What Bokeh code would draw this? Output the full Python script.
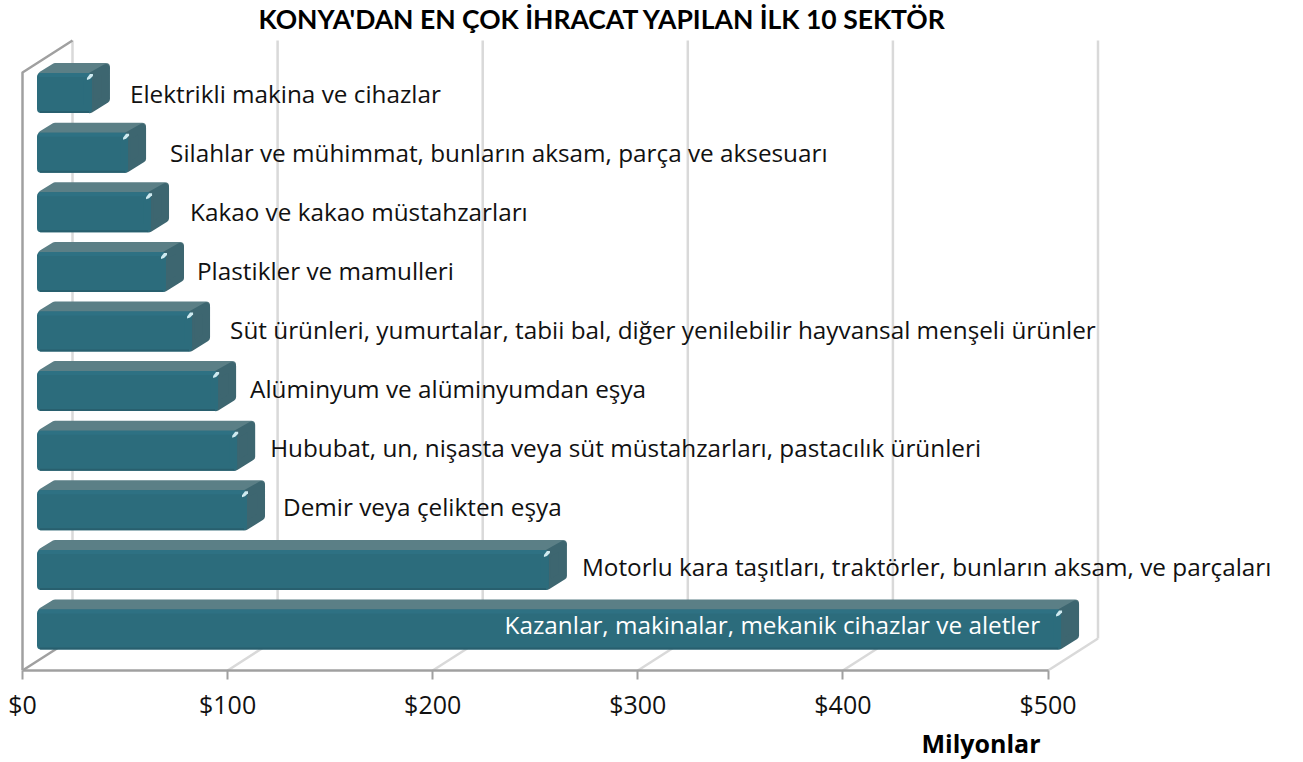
from bokeh.plotting import figure
from bokeh.embed import file_html
from bokeh.resources import INLINE
from bokeh.models import Label, Title, FixedTicker, Range1d
from bokeh.core.properties import value

title_text = "KONYA'DAN EN ÇOK İHRACAT YAPILAN İLK 10 SEKTÖR"
axis_title = "Milyonlar"
sectors = [
    "Elektrikli makina ve cihazlar",
    "Silahlar ve mühimmat, bunların aksam, parça ve aksesuarı",
    "Kakao ve kakao müstahzarları",
    "Plastikler ve mamulleri",
    "Süt ürünleri, yumurtalar, tabii bal, diğer yenilebilir hayvansal menşeli ürünler",
    "Alüminyum ve alüminyumdan eşya",
    "Hububat, un, nişasta veya süt müstahzarları, pastacılık ürünleri",
    "Demir veya çelikten eşya",
    "Motorlu kara taşıtları, traktörler,  bunların aksam, ve parçaları",
    "Kazanlar, makinalar, mekanik cihazlar ve aletler",
]
values = [26.8, 44.4, 55.6, 62.9, 75.6, 88.3, 97.6, 102.4, 249.6, 499.3]
ticks = [0, 100, 200, 300, 400, 500]
tick_labels = ["$0", "$100", "$200", "$300", "$400", "$500"]
label_gap_px = [21, 25, 22, 14, 21, 15, 16, 19, 16]

PXX = 2.051      # pixels per million
PXY = 59.6       # pixels per category
W, H = 1300, 760
TITLE_H = 34
AXIS_BORDER = 90
X0 = 22          # canvas px of $0
FONT = "Open Sans"
n = len(values)
frame_h = H - TITLE_H - AXIS_BORDER
y_start = -41 / PXY
y_end = y_start + frame_h / PXY
x_start = -X0 / PXX
x_end = x_start + W / PXX

dx = lambda px: px / PXX
dy = lambda px: px / PXY

p = figure(width=W, height=H, output_backend="svg", toolbar_location=None,
           x_range=Range1d(x_start, x_end), y_range=Range1d(y_start, y_end),
           min_border_left=0, min_border_right=0, min_border_top=TITLE_H, min_border_bottom=AXIS_BORDER,
           outline_line_color=None, background_fill_color="white", border_fill_color="white")
p.title = Title(text=title_text, align="left", offset=258, text_font="Lato", text_font_size="26.5px",
                text_font_style="bold", text_color="black", standoff=-1)
p.grid.visible = False
p.yaxis.visible = False

ax = p.xaxis[0]
ax.ticker = FixedTicker(ticks=ticks)
ax.major_label_overrides = {t: l for t, l in zip(ticks, tick_labels)}
ax.bounds = (ticks[0], ticks[-1])
ax.axis_line_color = "#a0a0a0"
ax.axis_line_width = 2.5
ax.major_tick_line_color = "#a0a0a0"
ax.major_tick_line_width = 2
ax.major_tick_out = 9
ax.major_tick_in = 0
ax.minor_tick_line_color = None
ax.major_label_standoff = 7
ax.major_label_text_font = FONT
ax.major_label_text_font_size = "25px"
ax.major_label_text_color = "#111111"

# 3-D box walls
WALL_DX, WALL_DY = 50, 32
top_back = y_start + dy(630)
top_front = top_back - dy(WALL_DY)
floor_back = y_start + dy(WALL_DY)
for t in ticks:
    bx = t + dx(WALL_DX)
    if t != 0:
        p.line([t, bx], [y_start, floor_back], line_color="#d9d9d9", line_width=2.5)
    p.line([bx, bx], [floor_back, top_back], line_color="#d9d9d9", line_width=2.5)
p.line([0, dx(WALL_DX)], [y_start, floor_back], line_color="#a0a0a0", line_width=2.5)
p.line([0, 0, dx(WALL_DX)], [y_start, top_front, top_back], line_color="#a0a0a0", line_width=2.5, line_join="round")

# 3-D bars
BAR_X = dx(14.5)
FH = 40          # front face height
DDX, DDY, R = 18, 10, 4
ys = [n - 1 - i for i in range(n)]


def patch(xs, ys_, color, lw=2 * R):
    p.patch(xs, ys_, fill_color=color, line_color=color, line_width=lw, line_join="round")


for v, y in zip(values, ys):
    l, r = BAR_X, BAR_X + v
    t, b = y + dy(FH / 2), y - dy(FH / 2)
    # top face
    patch([l + dx(R + 1), l + dx(DDX), r + dx(DDX - R), r + dx(R)],
          [t - dy(2), t + dy(DDY - R), t + dy(DDY - R), t - dy(2)], "#5b7f86")
    # side face
    patch([r - dx(2), r + dx(DDX - R), r + dx(DDX - R), r - dx(2)],
          [t - dy(R), t + dy(DDY - R - 1), b + dy(DDY + R), b + dy(R)], "#3d6670")
    # front face, shaded in bands
    patch([l + dx(R), r - dx(R), r - dx(R), l + dx(R)],
          [t - dy(R), t - dy(R), b + dy(R), b + dy(R)], "#2c6c7c")
    p.quad(left=[l + dx(2)], right=[r - dx(2)], top=[t], bottom=[t - dy(4)],
           fill_color="#2e7183", line_color=None)
    p.quad(left=[l + dx(3)], right=[r - dx(3)], top=[b + dy(2)], bottom=[b],
           fill_color="#285f6e", line_color=None)
    # specular highlight
    p.patch([r - dx(5), r - dx(2), r + dx(1), r + dx(1), r - dx(2), r - dx(5)],
            [t - dy(7), t - dy(6), t - dy(3), t - dy(1), t - dy(1), t - dy(5)],
            fill_color="#cfeaf0", line_color=None)

# category labels
gaps = label_gap_px + [None]
for i, (s, v, y, g) in enumerate(zip(sectors, values, ys, gaps)):
    if g is None:
        p.add_layout(Label(x=BAR_X + v - dx(21), y=y + dy(5), text=s, text_align="right", text_baseline="middle",
                           text_font=FONT, text_font_size="24.3px", text_color="white"))
    else:
        p.text([BAR_X + v + dx(DDX + g - 1)], [y + dy(-0.5 + 0.55 * i)], text=[s], text_align="left",
               text_baseline="middle", text_font=value(FONT), text_font_size="24.3px", text_color="#111111")

p.add_layout(Title(text=axis_title, align="left", offset=921, text_font=FONT, text_font_size="25px",
                   text_font_style="bold", text_color="black", standoff=0), "below")

open("out.html", "w").write(file_html(p, INLINE))
